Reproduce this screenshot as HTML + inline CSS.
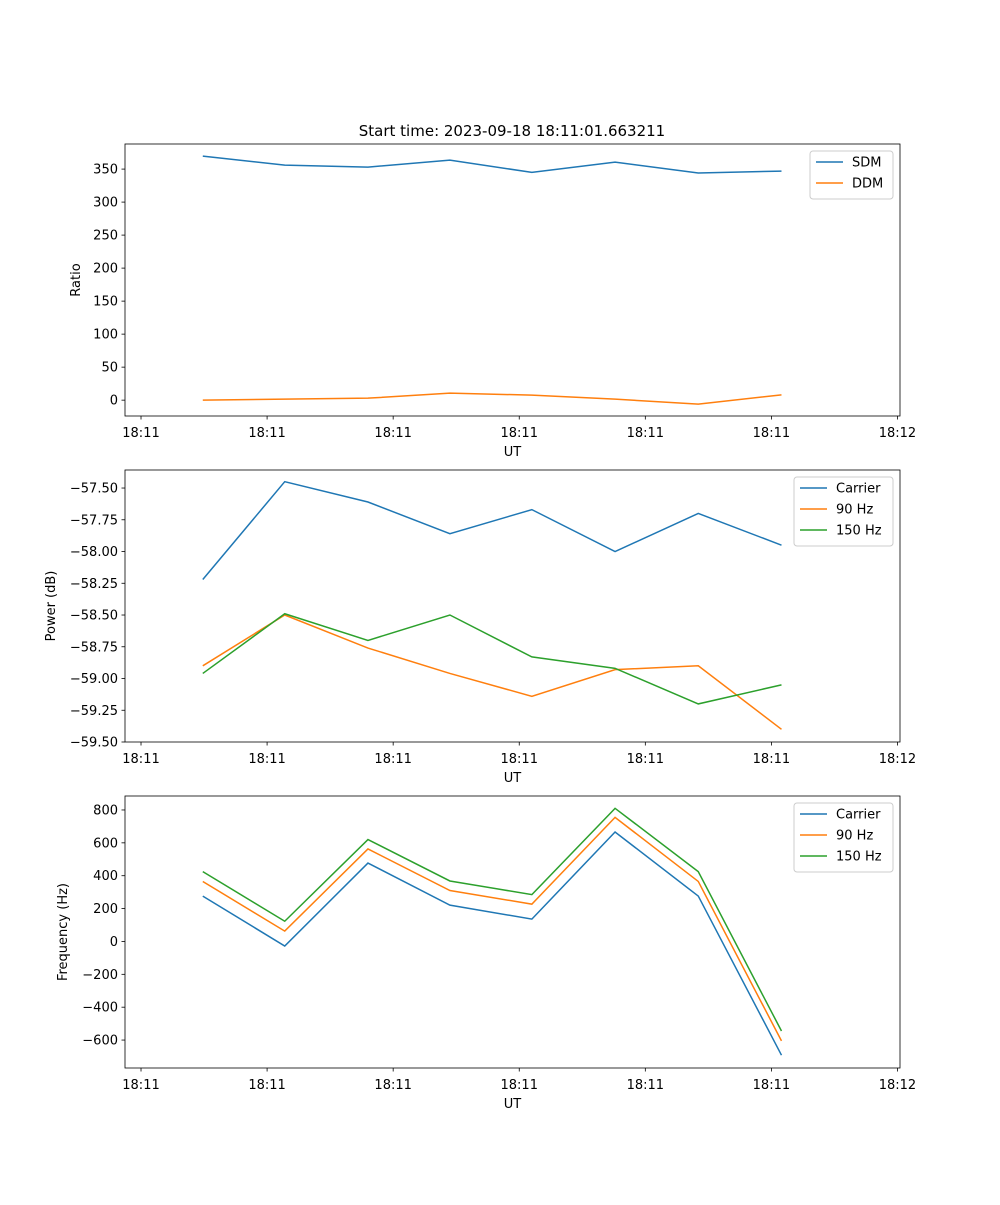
<!DOCTYPE html>
<html><head><meta charset="utf-8"><style>
body{margin:0;background:#fff;font-family:"Liberation Sans","DejaVu Sans",sans-serif;}
svg text{font-family:"DejaVu Sans","Liberation Sans",sans-serif;font-size:13px;fill:#000}
</style></head><body>
<svg id="fig" width="1000" height="1200" xmlns="http://www.w3.org/2000/svg">
<rect width="1000" height="1200" fill="#fff"/>
<text x="512" y="136" text-anchor="middle" style="font-size:15px">Start time: 2023-09-18 18:11:01.663211</text>
</svg>
<script>
const times = [0.49, 1.14, 1.80, 2.45, 3.10, 3.76, 4.42, 5.08];
const xTicks = [0,1,2,3,4,5,6];
const xTickLabels = ["18:11","18:11","18:11","18:11","18:11","18:11","18:12"];
const sdm = [369.7, 356, 353, 363.6, 345, 360.6, 344, 347];
const ddm = [0, 1.5, 3, 10.6, 7.6, 1.5, -6, 8];
const ratioTicks = [0,50,100,150,200,250,300,350];
const powCarrier = [-58.22, -57.45, -57.61, -57.86, -57.67, -58.0, -57.70, -57.95];
const pow90 = [-58.90, -58.50, -58.76, -58.96, -59.14, -58.93, -58.90, -59.40];
const pow150 = [-58.96, -58.49, -58.70, -58.50, -58.83, -58.92, -59.20, -59.05];
const powTicks = [-57.5,-57.75,-58,-58.25,-58.5,-58.75,-59,-59.25,-59.5];
const powTickLabels = ["\u221257.50","\u221257.75","\u221258.00","\u221258.25","\u221258.50","\u221258.75","\u221259.00","\u221259.25","\u221259.50"];
const freqCarrier = [276, -28, 477, 221, 136, 666, 276, -692];
const freq90 = [365, 63, 563, 310, 227, 755, 365, -605];
const freq150 = [425, 123, 620, 368, 285, 810, 425, -545];
const freqTicks = [-600,-400,-200,0,200,400,600,800];

const NS="http://www.w3.org/2000/svg";
const svg=document.getElementById('fig');
function el(tag,attrs,parent){const e=document.createElementNS(NS,tag);for(const k in attrs)e.setAttribute(k,attrs[k]);(parent||svg).appendChild(e);return e;}
const L=125,R=900;
const xDom=[-0.127,6.02];
function sx(v){return L+(v-xDom[0])/(xDom[1]-xDom[0])*(R-L);}
function panel(name,top,bot,yDom,yTicks,yLabels,yTitle,series,legend){
  const g=el('g',{});
  
  
  const sy=v=>bot-(v-yDom[0])/(yDom[1]-yDom[0])*(bot-top);
  series.forEach(s=>{
    const p=el('polyline',{points:s.data.map((v,i)=>sx(times[i])+','+sy(v)).join(' '),fill:'none',stroke:s.color,'stroke-width':1.5},g);
    
    
  });
  const fr=el('rect',{x:L,y:top,width:R-L,height:bot-top,fill:'none',stroke:'#000','stroke-width':0.8},g);
  
  
  xTicks.forEach((t,i)=>{
    const x=sx(t);
    el('line',{x1:x,x2:x,y1:bot,y2:bot+3.5,stroke:'#000','stroke-width':0.8},g);
    const tx=el('text',{x:x,y:bot+21,'text-anchor':'middle'},g);tx.textContent=xTickLabels[i];
    
    
  });
  yTicks.forEach((t,i)=>{
    const y=sy(t);
    el('line',{x1:L-3.5,x2:L,y1:y,y2:y,stroke:'#000','stroke-width':0.8},g);
    const tx=el('text',{x:L-7,y:y+4.5,'text-anchor':'end'},g);tx.textContent=yLabels?yLabels[i]:(t<0?'\u2212'+(-t):String(t));
    
    
  });
  const xt=el('text',{x:(L+R)/2,y:bot+40,'text-anchor':'middle'},g);xt.textContent='UT';
  
  
  const yx=legend.yTitleX;
  const yt=el('text',{x:yx,y:(top+bot)/2,'text-anchor':'middle',transform:`rotate(-90 ${yx} ${(top+bot)/2})`},g);yt.textContent=yTitle;
  
  
  const lg=el('g',{},g);
  
  
  el('rect',{x:legend.x,y:top+7,width:R-7-legend.x,height:series.length*21+6,fill:'#fff',stroke:'#ccc',rx:3},lg);
  series.forEach((s,i)=>{
    const y=top+18+i*21;
    el('line',{x1:legend.x+6,x2:legend.x+33,y1:y,y2:y,stroke:s.color,'stroke-width':1.5},lg);
    const t=el('text',{x:legend.x+42,y:y+4.5},lg);t.textContent=s.label;
    
    
  });
}
const B='#1f77b4',O='#ff7f0e',G='#2ca02c';
panel('ratio',144,416,[-24,388],ratioTicks,null,'Ratio',
  [{key:'sdm',label:'SDM',color:B,data:sdm},{key:'ddm',label:'DDM',color:O,data:ddm}],{x:810,yTitleX:80});
panel('power',470,742,[-59.5,-57.358],powTicks,powTickLabels,'Power (dB)',
  [{key:'carrier',label:'Carrier',color:B,data:powCarrier},{key:'90hz',label:'90 Hz',color:O,data:pow90},{key:'150hz',label:'150 Hz',color:G,data:pow150}],{x:794,yTitleX:55});
panel('frequency',796,1068,[-770,885],freqTicks,null,'Frequency (Hz)',
  [{key:'carrier',label:'Carrier',color:B,data:freqCarrier},{key:'90hz',label:'90 Hz',color:O,data:freq90},{key:'150hz',label:'150 Hz',color:G,data:freq150}],{x:794,yTitleX:67});
</script>
</body></html>
